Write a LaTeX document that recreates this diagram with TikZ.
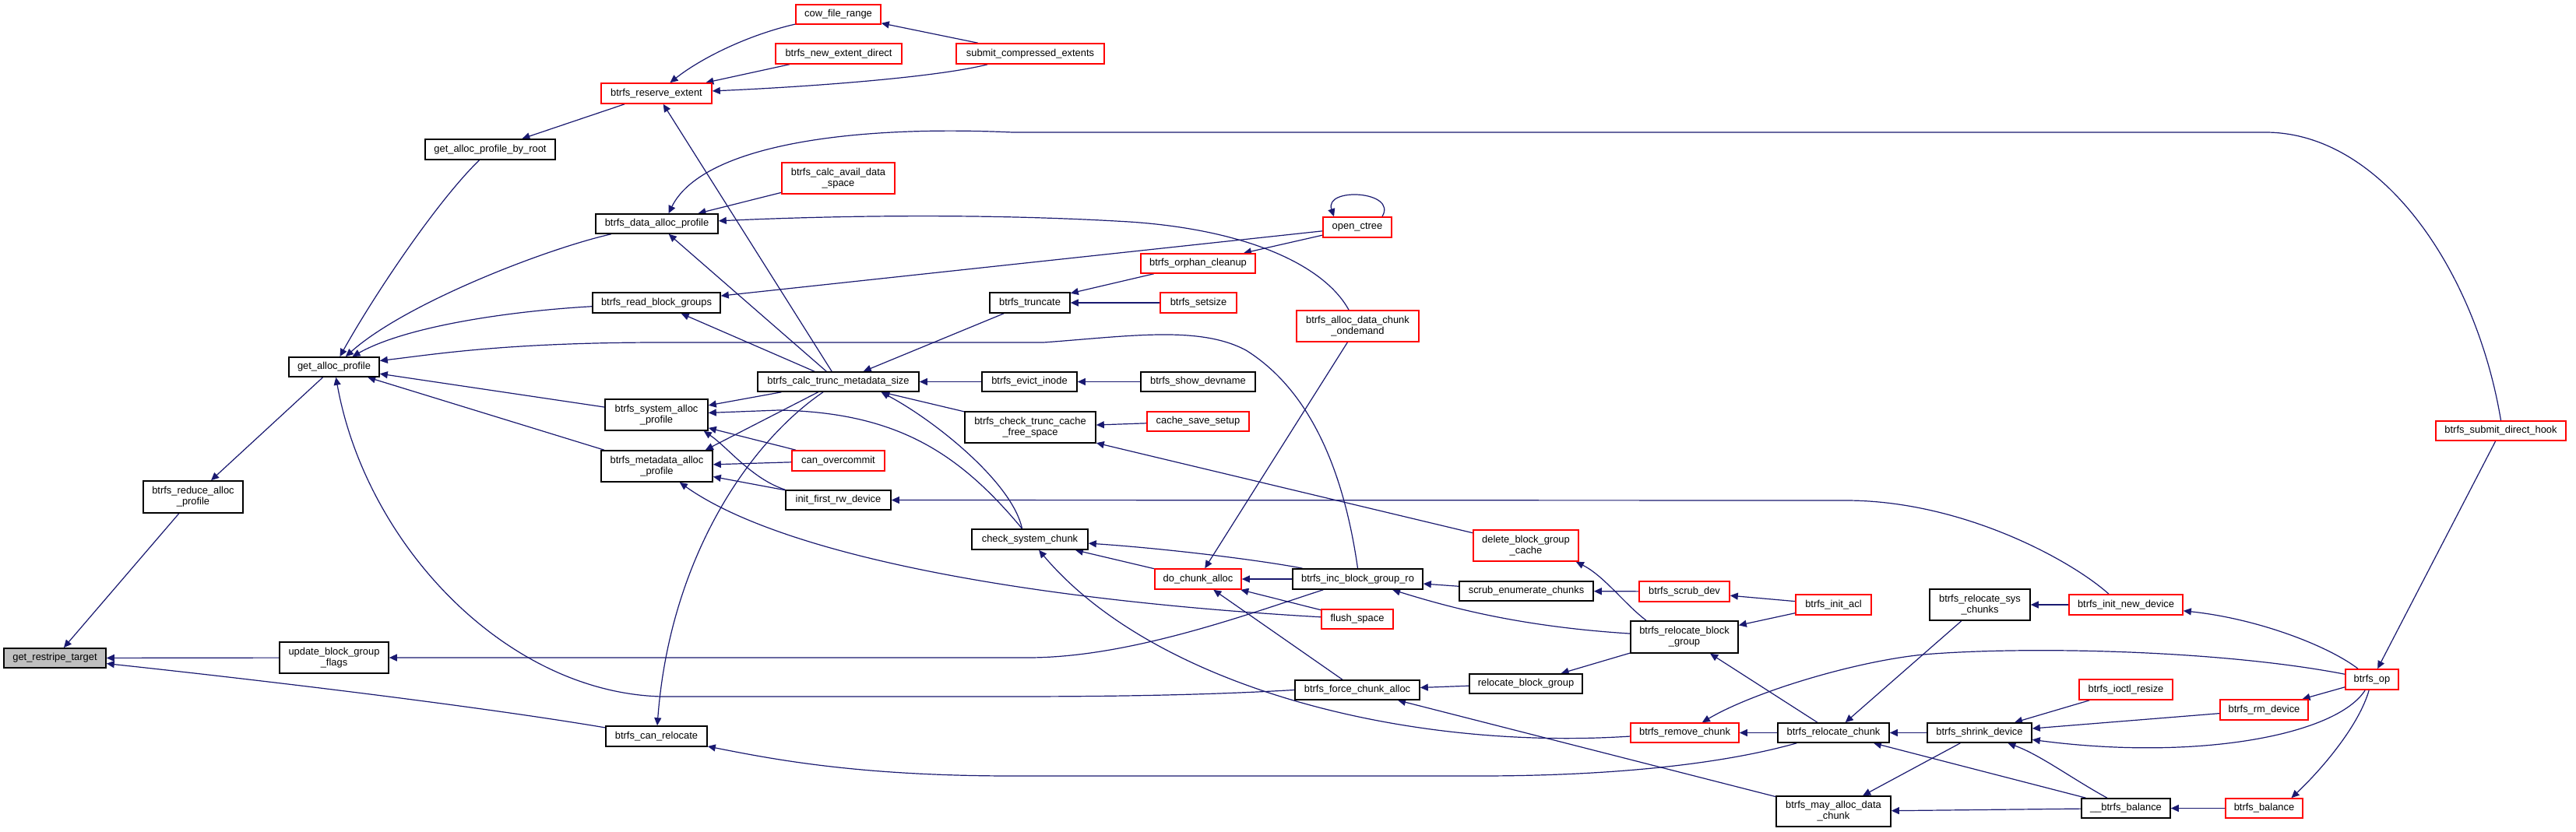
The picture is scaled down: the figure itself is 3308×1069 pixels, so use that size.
\documentclass[tikz,border=0pt]{standalone}
\usepackage{fontspec}
\setmainfont{Liberation Sans}
\usetikzlibrary{arrows.meta,calc}
\definecolor{edgeblue}{HTML}{191970}
\definecolor{rootgray}{HTML}{BFBFBF}
\pgfdeclarelayer{back}
\pgfdeclarelayer{edges}
\pgfsetlayers{back,edges,main}
\tikzset{
  bx/.style 2 args={draw=black, line width=0.8pt, fill=white, inner sep=0pt,
    minimum width={#1*0.5pt}, minimum height={#2*0.5pt}, align=center,
    font=\fontsize{6.45}{7}\selectfont},
  rbx/.style 2 args={bx={#1}{#2}, draw=red},
  gbx/.style 2 args={bx={#1}{#2}, fill=rootgray},
  edge/.style={draw=edgeblue, line width=0.6pt, -{Triangle[length=5pt,width=4.5pt]}}
}
\begin{document}
\begin{tikzpicture}[x=0.5pt,y=-0.5pt]
\useasboundingbox (0,0) rectangle (3308,1069);
\begin{pgfonlayer}{back}
\fill[white] (0,0) rectangle (3308,1069);
\end{pgfonlayer}
% nodes
\node[gbx={131}{25}] (grt) at (70.5,845.5) {get\_restripe\_target};
\node[bx={128}{41}] (reduce) at (248,638.5) {btrfs\_reduce\_alloc\\\_profile};
\node[bx={140}{40}] (ubgf) at (429,845) {update\_block\_group\\\_flags};
\node[bx={130}{26}] (canrel) at (843,946) {btrfs\_can\_relocate};
\node[bx={116}{25}] (gap) at (429,471.5) {get\_alloc\_profile};
\node[bx={167}{26}] (gapbr) at (629.5,192) {get\_alloc\_profile\_by\_root};
\node[rbx={142}{26}] (reserve) at (843,120) {btrfs\_reserve\_extent};
\node[bx={157}{25}] (dataap) at (843.5,287.5) {btrfs\_data\_alloc\_profile};
\node[bx={164}{26}] (rbg) at (843,389) {btrfs\_read\_block\_groups};
\node[bx={132}{40}] (sysap) at (843,533) {btrfs\_system\_alloc\\\_profile};
\node[bx={143}{40}] (metaap) at (843.5,599) {btrfs\_metadata\_alloc\\\_profile};
\node[rbx={109}{25}] (cow) at (1076.5,18.5) {cow\_file\_range};
\node[rbx={162}{26}] (ned) at (1077,69) {btrfs\_new\_extent\_direct};
\node[rbx={190}{26}] (sce) at (1323,69) {submit\_compressed\_extents};
\node[rbx={145}{40}] (cads) at (1076.5,229) {btrfs\_calc\_avail\_data\\\_space};
\node[bx={207}{25}] (ctms) at (1076.5,490.5) {btrfs\_calc\_trunc\_metadata\_size};
\node[rbx={119}{26}] (canover) at (1076.5,592) {can\_overcommit};
\node[bx={135}{25}] (ifrd) at (1076.5,642.5) {init\_first\_rw\_device};
\node[bx={103}{26}] (trunc) at (1322.5,389) {btrfs\_truncate};
\node[bx={122}{25}] (evict) at (1322,490.5) {btrfs\_evict\_inode};
\node[bx={168}{40}] (ctcfs) at (1323,549) {btrfs\_check\_trunc\_cache\\\_free\_space};
\node[bx={149}{26}] (csc) at (1322.5,693) {check\_system\_chunk};
\node[rbx={147}{25}] (orphan) at (1538.5,338.5) {btrfs\_orphan\_cleanup};
\node[rbx={98}{26}] (setsize) at (1539,389) {btrfs\_setsize};
\node[bx={147}{25}] (showdev) at (1538.5,490.5) {btrfs\_show\_devname};
\node[rbx={131}{25}] (csetup) at (1538.5,541.5) {cache\_save\_setup};
\node[rbx={111}{26}] (dca) at (1538.5,744) {do\_chunk\_alloc};
\node[rbx={88}{26}] (octree) at (1743,292) {open\_ctree};
\node[rbx={157}{40}] (adco) at (1743.5,419) {btrfs\_alloc\_data\_chunk\\\_ondemand};
\node[bx={167}{26}] (ibgro) at (1743.5,744) {btrfs\_inc\_block\_group\_ro};
\node[rbx={92}{25}] (flush) at (1743,795.5) {flush\_space};
\node[bx={160}{25}] (fca) at (1743,886.5) {btrfs\_force\_chunk\_alloc};
\node[bx={172}{25}] (sec) at (1960,759.5) {scrub\_enumerate\_chunks};
\node[rbx={135}{40}] (dbgc) at (1959.5,701) {delete\_block\_group\\\_cache};
\node[bx={145}{25}] (rbgrp) at (1959.5,878.5) {relocate\_block\_group};
\node[rbx={116}{26}] (scrubdev) at (2163,760) {btrfs\_scrub\_dev};
\node[rbx={97}{26}] (initacl) at (2354.5,777) {btrfs\_init\_acl};
\node[bx={138}{41}] (rlbg) at (2163,818.5) {btrfs\_relocate\_block\\\_group};
\node[rbx={139}{25}] (rmchunk) at (2163.5,941.5) {btrfs\_remove\_chunk};
\node[bx={143}{25}] (rlchunk) at (2354.5,941.5) {btrfs\_relocate\_chunk};
\node[bx={147}{39}] (madc) at (2354.5,1042.5) {btrfs\_may\_alloc\_data\\\_chunk};
\node[bx={129}{40}] (rsys) at (2542.5,777) {btrfs\_relocate\_sys\\\_chunks};
\node[rbx={146}{26}] (ind) at (2730,777) {btrfs\_init\_new\_device};
\node[bx={134}{25}] (shrink) at (2542,941.5) {btrfs\_shrink\_device};
\node[rbx={120}{26}] (ioctl) at (2730,886) {btrfs\_ioctl\_resize};
\node[bx={114}{25}] (bbal) at (2730,1038.5) {\_\_btrfs\_balance};
\node[rbx={113}{26}] (rmdev) at (2907.5,912) {btrfs\_rm\_device};
\node[rbx={99}{25}] (bal) at (2907.5,1038.5) {btrfs\_balance};
\node[rbx={68}{26}] (bop) at (3046,873) {btrfs\_op};
\node[rbx={167}{25}] (sdh) at (3211.5,553.5) {btrfs\_submit\_direct\_hook};
% edges
\begin{pgfonlayer}{edges}
\draw[edge] (reduce) -- (grt);
\draw[edge] (ubgf) -- (grt);
\draw[edge] (canrel) .. controls (600,905) and (300,870) .. (grt);
\draw[edge] (gap) -- (reduce);
\draw[edge] (gapbr) .. controls (560,260) and (480,380) .. (gap);
\draw[edge] (dataap) .. controls (700,320) and (520,390) .. (gap);
\draw[edge] (rbg) .. controls (650,400) and (520,420) .. (gap);
\draw[edge] (ibgro.north) .. controls (1725,600) and (1680,500) .. (1600,450)
  .. controls (1540,418) and (1450,432) .. (1340,440) -- (850,440)
  .. controls (650,440) and (560,455) .. ($(gap.east)+(0,-8)$);
\draw[edge] (sysap) -- (gap);
\draw[edge] (metaap) -- (gap);
\draw[edge] (fca.west) .. controls (1600,890) and (1500,895) .. (1300,895) -- (850,895)
  .. controls (650,890) and (470,700) .. (gap);
\draw[edge] (reserve) -- (gapbr);
\draw[edge] (cow) .. controls (960,45) and (900,75) .. (reserve);
\draw[edge] (ned) -- (reserve);
\draw[edge] (sce) .. controls (1200,100) and (1030,112) .. (reserve);
\draw[edge] (sce) -- (cow);
\draw[edge] (ctms) -- (reserve);
\draw[edge] (sdh.north) .. controls (3180,350) and (3060,170) .. (2909,170) -- (1300,170)
  .. controls (1080,160) and (900,190) .. ($(dataap.north)+(15,0)$);
\draw[edge] (cads) -- (dataap);
\draw[edge] (adco) .. controls (1700,340) and (1600,295) .. (1450,285)
  .. controls (1250,273) and (1050,278) .. (dataap);
\draw[edge] (ctms) -- (dataap);
\draw[edge] (octree) -- (rbg);
\draw[edge] (ctms) -- (rbg);
\draw[edge] (octree) -- (orphan);
\draw[edge] ($(octree.north)+(32,0)$) .. controls (1795,245) and (1700,240) .. ($(octree.north)+(-30,0)$);
\draw[edge] (orphan) -- (trunc);
\draw[edge] (setsize) -- (trunc);
\draw[edge] (trunc) -- (ctms);
\draw[edge] (evict) -- (ctms);
\draw[edge] (showdev) -- (evict);
\draw[edge] (ctcfs) -- (ctms);
\draw[edge] (csetup) -- (ctcfs);
\draw[edge] (dbgc) -- (ctcfs);
\draw[edge] ($(csc.north)+(-10,0)$) .. controls (1300,620) and (1200,540) .. ($(ctms.south)+(55,0)$);
\draw[edge] (ctms) -- (sysap);
\draw[edge] (ctms) -- ($(metaap.north east)+(-10,0)$);
\draw[edge] (ctms) .. controls (960,570) and (860,720) .. (canrel);
\draw[edge] ($(csc.north)+(-10,0)$) .. controls (1230,580) and (1150,530) .. (1000,527) -- (sysap);
\draw[edge] (canover) -- (sysap);
\draw[edge] (canover) -- (metaap);
\draw[edge] (ifrd) -- (metaap);
\draw[edge] (ifrd.north west) .. controls (965,615) and (935,575) .. ($(sysap.south east)+(-6,0)$);
\draw[edge] (flush) .. controls (1300,770) and (1000,710) .. (metaap);
\draw[edge] ($(ind.north)+(-22,0)$) .. controls (2660,720) and (2520,643) .. (2370,643) -- (ifrd);
\draw[edge] (dca) -- (csc);
\draw[edge] (ibgro) .. controls (1620,720) and (1500,705) .. (csc);
\draw[edge] (rmchunk) .. controls (1800,965) and (1480,880) .. (csc);
\draw[edge] (adco) -- (dca);
\draw[edge] (ibgro) -- (dca);
\draw[edge] (flush) -- (dca);
\draw[edge] (fca) -- (dca);
\draw[edge] ($(ibgro.south west)+(40,0)$) .. controls (1600,790) and (1450,845) .. (1320,845) -- (ubgf);
\draw[edge] (sec) -- (ibgro);
\draw[edge] (rlbg) .. controls (1950,805) and (1860,780) .. (ibgro);
\draw[edge] (scrubdev) -- (sec);
\draw[edge] (initacl) -- (scrubdev);
\draw[edge] (initacl) -- (rlbg);
\draw[edge] ($(rlbg.north)+(-49,0)$) .. controls (2085,775) and (2060,740) .. ($(dbgc.south east)+(-4,0)$);
\draw[edge] (rlbg) -- (rbgrp);
\draw[edge] (rbgrp) -- (fca);
\draw[edge] (madc) -- (fca);
\draw[edge] (rlchunk) -- (rlbg);
\draw[edge] (rlchunk) -- (rmchunk);
\draw[edge] (bop) .. controls (2850,835) and (2600,830) .. (2470,841)
  .. controls (2380,850) and (2250,890) .. (rmchunk);
\draw[edge] (rsys) -- (rlchunk);
\draw[edge] (shrink) -- (rlchunk);
\draw[edge] (bbal) -- (rlchunk);
\draw[edge] (shrink) -- (madc);
\draw[edge] (bbal) -- (madc);
\draw[edge] (rlchunk) .. controls (2200,985) and (2050,997) .. (1900,997) -- (1300,997)
  .. controls (1100,997) and (990,975) .. (canrel);
\draw[edge] (ind) -- (rsys);
\draw[edge] (bop) .. controls (2990,830) and (2900,795) .. (ind);
\draw[edge] (sdh) -- (bop);
\draw[edge] (ioctl) -- (shrink);
\draw[edge] (rmdev) -- (shrink);
\draw[edge] (bop) .. controls (3000,945) and (2820,978) .. (shrink);
\draw[edge] (bbal) .. controls (2660,1000) and (2620,970) .. (shrink);
\draw[edge] (bop) -- (rmdev);
\draw[edge] (bop) .. controls (3030,930) and (2985,985) .. ($(bal.north)+(35,0)$);
\draw[edge] (bal) -- (bbal);
\end{pgfonlayer}
\end{tikzpicture}
\end{document}
